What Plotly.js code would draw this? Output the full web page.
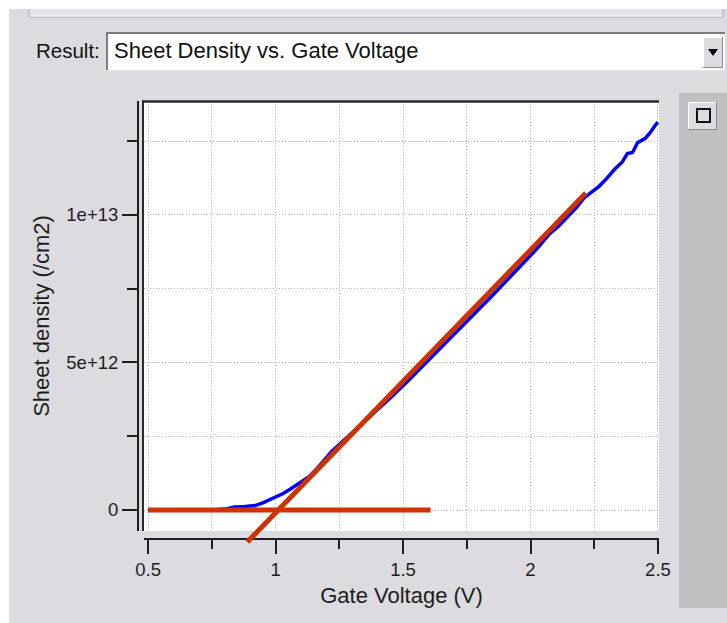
<!DOCTYPE html>
<html>
<head>
<meta charset="utf-8">
<script src="https://cdn.plot.ly/plotly-3.0.1.min.js"></script>
<style>
  html, body { margin: 0; padding: 0; background: #dcdbdf; }
  #chart { width: 727px; height: 623px; }
</style>
</head>
<body>
<div id="chart"></div>
<script>
// ---- data ----
const gateVoltage = [0.50, 0.55, 0.60, 0.65, 0.70, 0.75, 0.80, 0.82, 0.84, 0.88, 0.92,
  0.95, 0.99, 1.03, 1.06, 1.10, 1.13, 1.16, 1.19, 1.22, 1.25,
  1.32, 1.39, 1.45, 1.52, 1.58, 1.65, 1.71, 1.78, 1.84, 1.90,
  1.97, 2.03, 2.07, 2.11, 2.15, 2.18, 2.21, 2.24, 2.27, 2.30,
  2.33, 2.36, 2.38, 2.40, 2.42, 2.45, 2.47, 2.49, 2.50];
const sheetDensity = [0, 0, 0, 0, 0, 0, 0.03e12, 0.06e12, 0.10e12, 0.12e12, 0.15e12,
  0.24e12, 0.40e12, 0.56e12, 0.72e12, 0.95e12, 1.12e12, 1.38e12, 1.70e12, 1.98e12, 2.22e12,
  2.76e12, 3.32e12, 3.80e12, 4.38e12, 4.90e12, 5.50e12, 6.04e12, 6.64e12, 7.18e12, 7.72e12,
  8.34e12, 8.90e12, 9.32e12, 9.62e12, 9.98e12, 10.25e12, 10.58e12, 10.78e12, 10.98e12, 11.25e12,
  11.55e12, 11.80e12, 12.08e12, 12.12e12, 12.45e12, 12.60e12, 12.80e12, 13.05e12, 13.15e12];

// baseline (zero-density) fit line
const baselineX = [0.5, 1.608];
const baselineY = [0, 0];
// linear-region fit line
const fitX = [0.889, 2.217];
const fitY = [-1.085e12, 1.0746e13];

// axis ticks
const xTickVals = [0.5, 1, 1.5, 2, 2.5];
const xTickText = ['0.5', '1', '1.5', '2', '2.5'];
const xMinorVals = [0.75, 1.25, 1.75, 2.25];
const yTickVals = [0, 5e12, 1e13];
const yTickText = ['0', '5e+12', '1e+13'];
const yMinorVals = [2.5e12, 7.5e12, 1.25e13];

const resultLabel = 'Result:';
const resultChoice = 'Sheet Density vs. Gate Voltage';
const xTitle = 'Gate Voltage (V)';
const yTitle = 'Sheet density (/cm2)';

// ---- layout geometry (pixels) ----
const W = 727, H = 623;
const M = { l: 138, r: 68, t: 101, b: 72 };
const PW = W - M.l - M.r, PH = H - M.t - M.b;
const fx = px => (px - M.l) / PW;
const fy = py => (H - M.b - py) / PH;

// value range of the visible plot box (pixel rows 101..531)
const xRange = [0.484, 2.504];
const yRange = [-7.12e11, 1.3864e13];
const plotTop = 101, plotBottom = 531, xAxisRow = 539, lineBottom = 548;
// overlay subplot reaching a little below the white box, same scale
const perPx = (yRange[1] - yRange[0]) / (plotBottom - plotTop);
const yRange2 = [yRange[0] - perPx * (lineBottom - plotBottom), yRange[1]];

const FONT = 'Liberation Sans, Arial, Helvetica, sans-serif';
const INK = '#1e1e1e';
const GRID = '#bdbdbd';
const RED = '#cc3300';

function rect(x0, y0, x1, y1, fill, line, lw, layer) {
  return { type: 'rect', xref: 'paper', yref: 'paper',
    x0: fx(x0), x1: fx(x1), y0: fy(y0), y1: fy(y1),
    fillcolor: fill || 'rgba(0,0,0,0)',
    line: { color: line || 'rgba(0,0,0,0)', width: lw || 0 },
    layer: layer || 'above' };
}
function seg(x0, y0, x1, y1, color, lw) {
  return { type: 'line', xref: 'paper', yref: 'paper',
    x0: fx(x0), x1: fx(x1), y0: fy(y0), y1: fy(y1),
    line: { color: color, width: lw }, layer: 'above' };
}

const shapes = [
  // white plot box
  rect(144, plotTop, 659, plotBottom, '#ffffff', null, 0, 'below'),
  // top frame box
  rect(29, 4, 723, 17, '#e4e3e7', '#a9a9ad', 1),
  seg(30, 16, 722, 16, '#f4f4f6', 1),
  // white outer strips
  rect(0, 0, 727, 9, '#ffffff'),
  rect(0, 0, 9, 623, '#ffffff'),
  // dropdown field
  rect(106, 32, 725, 71, '#ffffff'),
  seg(106, 33, 725, 33, '#7c7c80', 2),
  seg(107, 32, 107, 71, '#7c7c80', 2),
  seg(106, 70.5, 725, 70.5, '#e6e6e6', 1),
  // dropdown arrow button
  rect(703, 37, 723, 68, '#dcdbdf'),
  seg(703, 37.5, 723, 37.5, '#ffffff', 1),
  seg(703.5, 37, 703.5, 68, '#ffffff', 1),
  seg(703, 67.5, 723, 67.5, '#8a8a8e', 1),
  seg(722.5, 37, 722.5, 68, '#8a8a8e', 1),
  { type: 'path', xref: 'paper', yref: 'paper',
    path: 'M ' + fx(708) + ' ' + fy(49) + ' L ' + fx(718) + ' ' + fy(49) + ' L ' + fx(713) + ' ' + fy(56) + ' Z',
    fillcolor: '#000000', line: { width: 0 }, layer: 'above' },
  // right side panel
  rect(679, 93, 727, 608, '#c0c0c0'),
  rect(688, 102, 717, 130, '#dcdbdf'),
  seg(688, 102.5, 717, 102.5, '#ffffff', 1),
  seg(688.5, 102, 688.5, 130, '#ffffff', 1),
  seg(688, 129.5, 717, 129.5, '#8a8a8e', 1),
  seg(716.5, 102, 716.5, 130, '#8a8a8e', 1),
  rect(697, 109, 710, 122, null, '#111111', 2),
  // plot frame (top and left heavy lines)
  seg(142, 101.5, 659, 101.5, '#2a2a2a', 2.5),
  seg(143, 100.5, 143, 531, '#2a2a2a', 2)
];

const annotations = [
  { text: resultLabel, xref: 'paper', yref: 'paper', x: fx(34), y: fy(51),
    xanchor: 'left', yanchor: 'middle', showarrow: false,
    font: { family: FONT, size: 20.5, color: '#111' } },
  { text: resultChoice, xref: 'paper', yref: 'paper', x: fx(112), y: fy(51),
    xanchor: 'left', yanchor: 'middle', showarrow: false,
    font: { family: FONT, size: 22, color: '#111' } }
];

const traces = [
  { x: gateVoltage, y: sheetDensity, type: 'scatter', mode: 'lines',
    line: { color: '#0000ff', width: 3.5 }, hoverinfo: 'skip' },
  { x: baselineX, y: baselineY, type: 'scatter', mode: 'lines', xaxis: 'x2', yaxis: 'y2',
    line: { color: RED, width: 5 }, hoverinfo: 'skip' },
  { x: fitX, y: fitY, type: 'scatter', mode: 'lines', xaxis: 'x2', yaxis: 'y2',
    line: { color: RED, width: 5 }, hoverinfo: 'skip' }
];

const axisCommon = {
  anchor: 'free',
  showline: true, linecolor: INK, linewidth: 2,
  ticks: 'outside', tickwidth: 2, tickcolor: INK,
  tickmode: 'array',
  showgrid: true, gridcolor: GRID, gridwidth: 1, griddash: '1px,2px',
  zeroline: false,
  tickfont: { family: FONT, size: 18.5, color: INK }
};

const layout = {
  width: W, height: H,
  margin: M,
  paper_bgcolor: '#dcdbdf',
  plot_bgcolor: 'rgba(0,0,0,0)',
  showlegend: false,
  font: { family: FONT, color: INK },
  xaxis: Object.assign({}, axisCommon, {
    domain: [fx(144), 1],
    position: fy(xAxisRow),
    range: xRange,
    ticklen: 14,
    tickvals: xTickVals, ticktext: xTickText,
    minor: { tickmode: 'array', tickvals: xMinorVals, ticklen: 9, tickwidth: 2, tickcolor: INK,
      showgrid: true, gridcolor: GRID, gridwidth: 1, griddash: '1px,2px' },
    title: { text: xTitle, font: { family: FONT, size: 22, color: INK }, standoff: 7 }
  }),
  yaxis: Object.assign({}, axisCommon, {
    domain: [fy(plotBottom), 1],
    position: 0,
    range: yRange,
    ticklen: 15,
    tickvals: yTickVals, ticktext: yTickText,
    minor: { tickmode: 'array', tickvals: yMinorVals, ticklen: 10, tickwidth: 2, tickcolor: INK,
      showgrid: true, gridcolor: GRID, gridwidth: 1, griddash: '1px,2px' },
    title: { text: yTitle, font: { family: FONT, size: 22, color: INK }, standoff: 10 }
  }),
  xaxis2: { domain: [fx(144), 1], range: xRange, anchor: 'y2', visible: false, showgrid: false, zeroline: false },
  yaxis2: { domain: [fy(lineBottom), 1], range: yRange2, anchor: 'x2', visible: false, showgrid: false, zeroline: false },
  shapes: shapes,
  annotations: annotations
};

Plotly.newPlot('chart', traces, layout, { displayModeBar: false, staticPlot: true });
</script>
</body>
</html>
